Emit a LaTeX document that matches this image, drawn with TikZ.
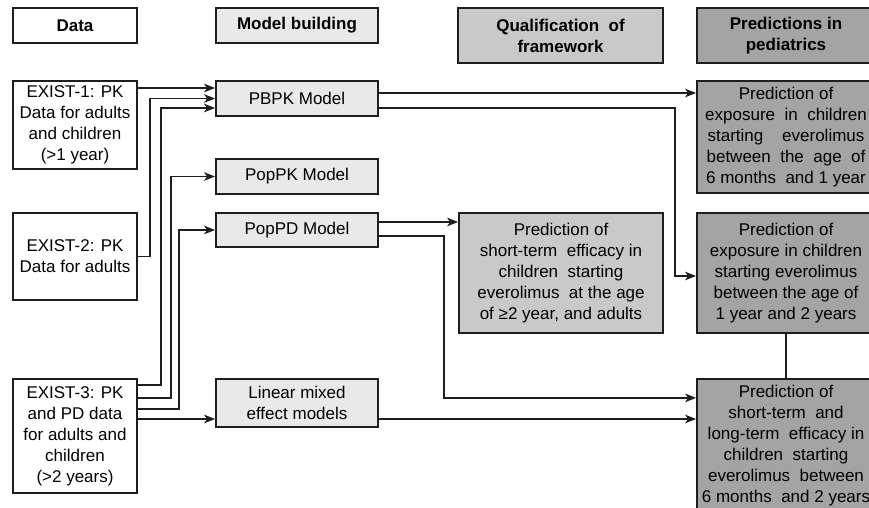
\documentclass[tikz,border=0pt]{standalone}
\usepackage{fontspec}
\setmainfont{Liberation Sans}
\usetikzlibrary{arrows.meta}
\definecolor{edgec}{HTML}{1E1E1E}
\definecolor{modelfill}{HTML}{E9E9E9}
\definecolor{qualfill}{HTML}{C9C9C9}
\definecolor{predfill}{HTML}{A4A4A4}
\tikzset{
  box/.style={draw=edgec, line width=1.8pt, rectangle, inner sep=0pt, align=center,
    font=\fontsize{17}{21}\selectfont, text=black},
  hdr/.style={box, font=\fontsize{17}{21}\selectfont\bfseries},
  databox/.style={box, fill=white},
  modelbox/.style={box, fill=modelfill},
  qualbox/.style={box, fill=qualfill},
  predbox/.style={box, fill=predfill},
  conn/.style={draw=edgec, line width=1.6pt},
  arr/.style={conn, -{Stealth[length=11pt,width=8.5pt,inset=3pt]}},
}
\begin{document}
\begin{tikzpicture}[x=1pt,y=-1pt]
\useasboundingbox (0,0) rectangle (869,508);
\clip (0,0) rectangle (869,508);
\fill[white] (0,0) rectangle (869,508);
% headers
\node[hdr, fill=white, minimum width=124pt, minimum height=35pt] (hdata) at (75,25.5) {Data};
\node[hdr, fill=modelfill, minimum width=162pt, minimum height=35pt] (hmodel) at (297,25.5) {Model building};
\node[hdr, fill=qualfill, minimum width=205pt, minimum height=55pt] (hqual) at (560.5,35.5) {Qualification\ \ of\\framework};
\node[hdr, fill=predfill, minimum width=178pt, minimum height=55pt] (hpred) at (786,35.5) {Predictions in\\pediatrics};
% data
\node[databox, minimum width=124pt, minimum height=88pt] (e1) at (75,125) {EXIST-1: PK\\Data for adults\\and children\\(>1 year)};
\node[databox, minimum width=124pt, minimum height=87pt] (e2) at (75,256.5) {EXIST-2: PK\\Data for adults};
\node[databox, minimum width=124pt, minimum height=114pt] (e3) at (75,436) {EXIST-3: PK\\and PD data\\for adults and\\children\\(>2 years)};
% models
\node[modelbox, minimum width=162pt, minimum height=35pt] (pbpk) at (297,98.5) {PBPK Model};
\node[modelbox, minimum width=162pt, minimum height=35pt] (poppk) at (297,176.5) {PopPK Model};
\node[modelbox, minimum width=162pt, minimum height=34pt] (poppd) at (297,230) {PopPD Model};
\node[modelbox, minimum width=162pt, minimum height=48pt] (lin) at (297,403) {Linear mixed\\effect models};
% qualification
\node[qualbox, minimum width=204pt, minimum height=120pt] (qp) at (561,273) {Prediction of\\short-term\ \ efficacy in\\children\ \ starting\\everolimus\ \ at the age\\of ≥2 year, and adults};
% predictions
\node[predbox, minimum width=178pt, minimum height=112pt] (x1) at (786,137) {Prediction of\\exposure\ \ in\ \ children\\starting\ \ \ \ everolimus\\between\ \ the\ \ age\ \ of\\6 months\ \ and 1 year};
\node[predbox, minimum width=178pt, minimum height=120pt] (x2) at (786,273) {Prediction of\\exposure in children\\starting everolimus\\between the age of\\1 year and 2 years};
\node[predbox, minimum width=178pt, minimum height=134pt, anchor=north] (ef) at (786,378) {Prediction of\\short-term\ \ and\\long-term\ \ efficacy in\\children\ \ starting\\everolimus\ \ between\\6 months\ \ and 2 years};
% connectors data -> models
\draw[arr] ([yshift=37pt]e1.east) -- ([yshift=37pt]e1.east -| pbpk.west);
\draw[arr] (e2.east) -- ++(12,0) |- (pbpk.west);
\draw[arr] ([yshift=51pt]e3.east) -- ++(23,0) |- ([yshift=-9.5pt]pbpk.west);
\draw[arr] ([yshift=38pt]e3.east) -- ++(33,0) |- (poppk.west);
\draw[arr] ([yshift=27pt]e3.east) -- ++(41,0) |- (poppd.west);
\draw[arr] ([yshift=17pt]e3.east) -- ([yshift=17pt]e3.east -| lin.west);
% models -> predictions
\draw[arr] ([yshift=5.5pt]pbpk.east) -- ([yshift=5.5pt]pbpk.east -| x1.west);
\draw[arr] ([yshift=-9.5pt]pbpk.east) -- ++(296,0) |- ([yshift=-3pt]x2.west);
\draw[arr] ([yshift=8pt]poppd.east) -- ([yshift=8pt]poppd.east -| qp.west);
\draw[arr] ([yshift=-6pt]poppd.east) -- ++(65,0) |- ([yshift=48pt]ef.west);
\draw[arr] ([yshift=-16pt]lin.east) -- ([yshift=-16pt]lin.east -| ef.west);
\draw[conn] (x2.south) -- (ef.north);
\end{tikzpicture}
\end{document}
